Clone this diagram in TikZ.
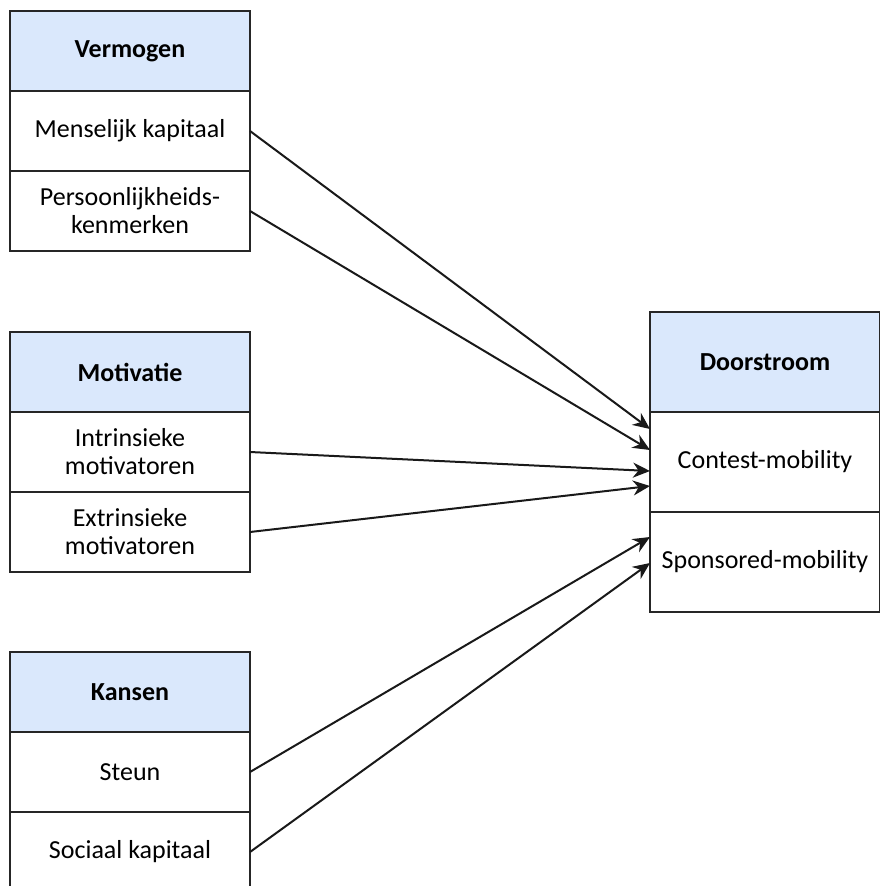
\documentclass[tikz,border=0pt]{standalone}
\usepackage{fontspec}
\setmainfont{Carlito}
\usetikzlibrary{arrows.meta,positioning,calc}
\definecolor{kopblauw}{HTML}{DAE8FC}

\tikzset{
  cel/.style={draw=black!85,line width=2pt,minimum width=240pt,minimum height=80pt,
    inner sep=2pt,outer sep=0pt,align=center,font=\fontsize{26}{28}\selectfont},
  kop/.style={cel,fill=kopblauw,font=\fontsize{26}{28}\selectfont\bfseries},
  rechts/.style={minimum width=230pt,minimum height=100pt},
  pijl/.style={-{Stealth[length=17pt,width=15pt]},line width=2pt,black!90},
}

\begin{document}
\begin{tikzpicture}[x=1pt,y=-1pt]

\useasboundingbox (0,0) rectangle (880,886);

% ---- Vermogen ----
\node[kop] (vermogen) at (130,51) {Vermogen};
\node[cel,below=0pt of vermogen] (menselijk) {Menselijk kapitaal};
\node[cel,below=0pt of menselijk] (persoon) {Persoonlijkheids-\\kenmerken};

% ---- Motivatie ----
\node[kop] (motivatie) at (130,372) {Motivatie};
\node[cel,below=0pt of motivatie] (intrinsiek) {Intrinsieke\\motivatoren};
\node[cel,below=0pt of intrinsiek] (extrinsiek) {Extrinsieke\\motivatoren};

% ---- Kansen ----
\node[kop] (kansen) at (130,692) {Kansen};
\node[cel,below=0pt of kansen] (steun) {Steun};
\node[cel,below=0pt of steun] (sociaal) {Sociaal kapitaal};

% ---- Doorstroom ----
\node[kop,rechts] (doorstroom) at (765,362) {Doorstroom};
\node[cel,rechts,below=0pt of doorstroom] (contest) {Contest-mobility};
\node[cel,rechts,below=0pt of contest] (sponsored) {Sponsored-mobility};

% ---- pijlen ----
\draw[pijl] (menselijk.east) -- ([yshift=33pt]contest.west);
\draw[pijl] (persoon.east) -- ([yshift=12pt]contest.west);
\draw[pijl] (intrinsiek.east) -- ([yshift=-9pt]contest.west);
\draw[pijl] (extrinsiek.east) -- ([yshift=-24pt]contest.west);
\draw[pijl] (steun.east) -- ([yshift=25pt]sponsored.west);
\draw[pijl] (sociaal.east) -- ([yshift=-1pt]sponsored.west);

\end{tikzpicture}
\end{document}
